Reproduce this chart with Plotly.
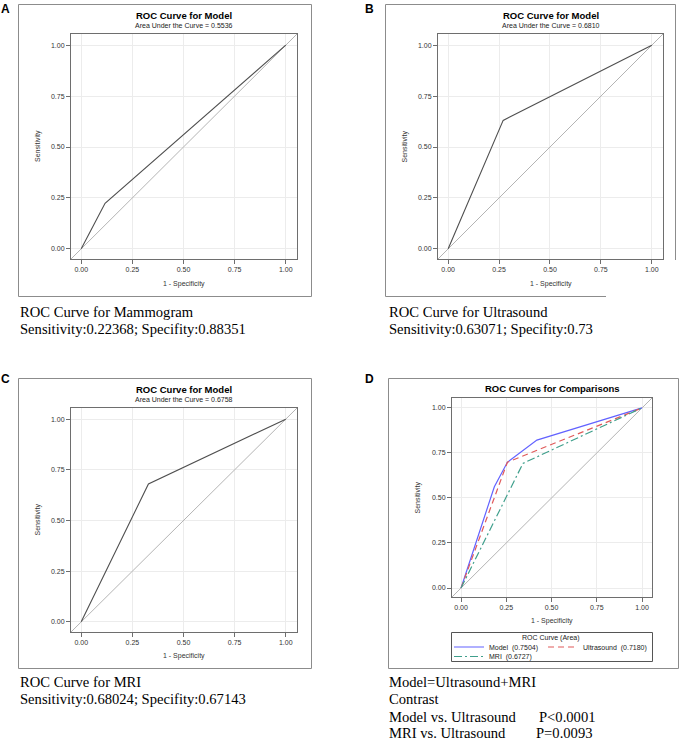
import plotly.graph_objects as go

W, H = 679, 740

# ---------------- data ----------------
AXIS_RANGE = [-0.05, 1.055]
TICK_VALS = [0, 0.25, 0.5, 0.75, 1.0]
TICK_TEXT = ["0.00", "0.25", "0.50", "0.75", "1.00"]

mammo_fpr = [0.0, 0.11649, 1.0]
mammo_tpr = [0.0, 0.22368, 1.0]
mammo_auc = "0.5536"

us_fpr = [0.0, 0.27, 1.0]
us_tpr = [0.0, 0.63071, 1.0]
us_auc = "0.6810"

mri_fpr = [0.0, 0.32857, 1.0]
mri_tpr = [0.0, 0.68024, 1.0]
mri_auc = "0.6758"

cmp_model_fpr = [0.0, 0.184, 0.256, 0.419, 1.0]
cmp_model_tpr = [0.0, 0.5625, 0.698, 0.821, 1.0]
cmp_us_fpr = [0.0, 0.256, 1.0]
cmp_us_tpr = [0.0, 0.698, 1.0]
cmp_mri_fpr = [0.0, 0.342, 1.0]
cmp_mri_tpr = [0.0, 0.692, 1.0]
cmp_labels = ["Model  (0.7504)", "Ultrasound  (0.7180)", "MRI  (0.6727)"]

X_TITLE = "1 - Specificity"
Y_TITLE = "Sensitivity"

captions_A = ["ROC Curve for Mammogram", "Sensitivity:0.22368; Specifity:0.88351"]
captions_B = ["ROC Curve for Ultrasound", "Sensitivity:0.63071; Specifity:0.73"]
captions_C = ["ROC Curve for MRI", "Sensitivity:0.68024; Specifity:0.67143"]
captions_D = ["Model=Ultrasound+MRI", "Contrast", "Model vs. Ultrasound", "MRI vs. Ultrasound"]
pvalues_D = ["P<0.0001", "P=0.0093"]

# ---------------- helpers ----------------
def px(x):
    return x / W

def py(y):
    return 1 - y / H

SANS = "Liberation Sans, Arial, sans-serif"
SERIF = "Liberation Serif, Times New Roman, serif"

fig = go.Figure()

# plot areas (pixel boxes) : left, right, top, bottom
boxes = {
    "": (71, 297, 34, 259),
    "2": (438, 663, 34, 259),
    "3": (71, 297, 408, 632),
    "4": (452, 652, 398, 597),
}

single = [
    ("", mammo_fpr, mammo_tpr),
    ("2", us_fpr, us_tpr),
    ("3", mri_fpr, mri_tpr),
]

for suf, fx, fy in single:
    fig.add_trace(go.Scatter(x=AXIS_RANGE, y=AXIS_RANGE, mode="lines",
                             line=dict(color="#b4b4b4", width=1),
                             xaxis="x" + suf, yaxis="y" + suf, showlegend=False, hoverinfo="skip"))
    fig.add_trace(go.Scatter(x=fx, y=fy, mode="lines",
                             line=dict(color="#4f4f4f", width=1.1),
                             xaxis="x" + suf, yaxis="y" + suf, showlegend=False))

# comparison panel
fig.add_trace(go.Scatter(x=AXIS_RANGE, y=AXIS_RANGE, mode="lines",
                         line=dict(color="#b4b4b4", width=1),
                         xaxis="x4", yaxis="y4", showlegend=False, hoverinfo="skip"))
fig.add_trace(go.Scatter(x=cmp_model_fpr, y=cmp_model_tpr, mode="lines", name=cmp_labels[0],
                         line=dict(color="#6262ff", width=1.2),
                         xaxis="x4", yaxis="y4", legend="legend"))
fig.add_trace(go.Scatter(x=cmp_us_fpr, y=cmp_us_tpr, mode="lines", name=cmp_labels[1],
                         line=dict(color="#e05a5a", width=1.2, dash="6px,4px"),
                         xaxis="x4", yaxis="y4", legend="legend"))
fig.add_trace(go.Scatter(x=cmp_mri_fpr, y=cmp_mri_tpr, mode="lines", name=cmp_labels[2],
                         line=dict(color="#3f9f8c", width=1.2, dash="8px,3px,2px,3px"),
                         xaxis="x4", yaxis="y4", legend="legend2"))

layout_axes = {}
for suf, (l, r, t, b) in boxes.items():
    common = dict(range=AXIS_RANGE, tickvals=TICK_VALS, ticktext=TICK_TEXT,
                  showline=True, mirror=True, linecolor="#6e6e6e", linewidth=1,
                  ticks="outside", ticklen=4, tickcolor="#6e6e6e",
                  showgrid=True, gridcolor="#ececec", gridwidth=1, zeroline=False,
                  tickfont=dict(family=SANS, size=7, color="#333333"),
                  fixedrange=True, automargin=False)
    layout_axes["xaxis" + suf] = dict(common, domain=[px(l), px(r)], anchor="y" + suf)
    layout_axes["yaxis" + suf] = dict(common, domain=[py(b), py(t)], anchor="x" + suf)

annotations = []
shapes = []

def text(x, y, s, size, family=SANS, color="#000000", xanchor="center", bold=False, angle=0):
    annotations.append(dict(x=px(x), y=py(y), xref="paper", yref="paper", text=("<b>%s</b>" % s) if bold else s,
                            showarrow=False, xanchor=xanchor, yanchor="middle", textangle=angle,
                            font=dict(family=family, size=size, color=color)))

def rect(x0, y0, x1, y1, color="#8c8c8c"):
    shapes.append(dict(type="rect", xref="paper", yref="paper", x0=px(x0), x1=px(x1), y0=py(y1), y1=py(y0),
                       line=dict(color=color, width=1), fillcolor="rgba(0,0,0,0)", layer="below"))

def hline(x0, x1, y, color="#8c8c8c"):
    shapes.append(dict(type="line", xref="paper", yref="paper", x0=px(x0), x1=px(x1), y0=py(y), y1=py(y),
                       line=dict(color=color, width=1)))

def vline(x, y0, y1, color="#8c8c8c"):
    shapes.append(dict(type="line", xref="paper", yref="paper", x0=px(x), x1=px(x), y0=py(y0), y1=py(y1),
                       line=dict(color=color, width=1)))

# frames
rect(18.5, 4.5, 311.5, 296.5)
# B frame (bottom-right corner cropped in original)
hline(385.5, 675.5, 4.5)
vline(385.5, 4.5, 296.5)
vline(675.5, 4.5, 260)
hline(385.5, 606, 296.5)
rect(18.5, 378.5, 311.5, 668.5)
rect(388.5, 378.5, 678.5, 668.5)

# panel letters
text(5, 8.5, "A", 12, bold=True)
text(369.5, 8.5, "B", 12, bold=True)
text(5, 379, "C", 12, bold=True)
text(369.5, 379, "D", 12, bold=True)

# titles
for cx, ty, sy, auc in [(184, 15.7, 26, mammo_auc), (550.5, 15.7, 26, us_auc), (184, 390, 399.5, mri_auc)]:
    text(cx, ty, "ROC Curve for Model", 9.5, bold=True)
    text(cx, sy, "Area Under the Curve = " + auc, 7, color="#222222")
text(552, 389, "ROC Curves for Comparisons", 9.5, bold=True)

# axis titles
for xc, xt_y, yt_x, yc in [(184, 284, 37.5, 146.5), (550.5, 284, 404, 146.5),
                           (184, 656, 37.5, 520), (552, 620.5, 418, 497.5)]:
    text(xc, xt_y, X_TITLE, 7, color="#333333")
    text(yt_x, yc, Y_TITLE, 7, color="#333333", angle=-90)

# captions
text(18, 312, captions_A[0], 14.6, family=SERIF, xanchor="left")
text(18, 329, captions_A[1], 14.6, family=SERIF, xanchor="left")
text(387, 312, captions_B[0], 14.6, family=SERIF, xanchor="left")
text(387, 329, captions_B[1], 14.6, family=SERIF, xanchor="left")
text(18, 682, captions_C[0], 14.6, family=SERIF, xanchor="left")
text(18, 699, captions_C[1], 14.6, family=SERIF, xanchor="left")
for i, (s, yy) in enumerate(zip(captions_D, [681.5, 699, 716.5, 733])):
    text(387, yy, s, 14.6, family=SERIF, xanchor="left")
text(537, 716.5, pvalues_D[0], 14.6, family=SERIF, xanchor="left")
text(534, 733, pvalues_D[1], 14.6, family=SERIF, xanchor="left")

# legend box and title for panel D
rect(451.5, 632.5, 652.5, 661.5, color="#555555")
text(551, 637.5, "ROC Curve (Area)", 7, color="#222222")

legend_common = dict(orientation="h", xref="container", yref="container", xanchor="left", yanchor="middle",
                     font=dict(family=SANS, size=7, color="#222222"), bgcolor="rgba(0,0,0,0)",
                     borderwidth=0, itemwidth=30, tracegroupgap=0, itemclick=False, itemdoubleclick=False)

fig.update_layout(
    width=W, height=H,
    margin=dict(l=0, r=0, t=0, b=0, autoexpand=False),
    paper_bgcolor="white", plot_bgcolor="white",
    annotations=annotations, shapes=shapes,
    legend=dict(legend_common, x=px(449), y=py(647)),
    legend2=dict(legend_common, x=px(449), y=py(656.5)),
    **layout_axes,
)

fig.write_html("out.html",
               config={"displayModeBar": False, "responsive": False},
               post_script="document.body.style.margin='0';document.body.style.overflow='hidden';")
